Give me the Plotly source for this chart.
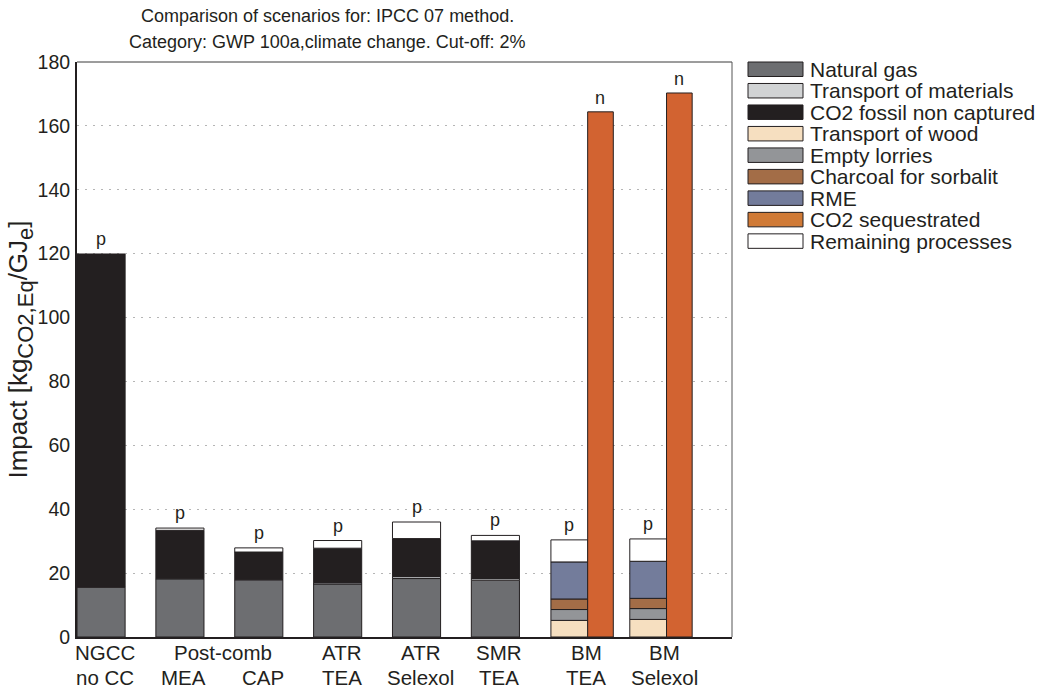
import plotly.graph_objects as go

# ---- data -------------------------------------------------------------
label_line1 = ["NGCC", "", "", "ATR", "ATR", "SMR", "BM", "BM"]
label_line2 = ["no CC", "MEA", "CAP", "TEA", "Selexol", "TEA", "TEA", "Selexol"]
group_label = "Post-comb"          # spans the MEA and CAP scenarios
group_members = [1, 2]

series_names = [
    "Natural gas", "Transport of materials", "CO2 fossil non captured",
    "Transport of wood", "Empty lorries", "Charcoal for sorbalit", "RME",
    "CO2 sequestrated", "Remaining processes",
]

natural_gas        = [15.6, 18.2, 17.9, 16.6, 18.3, 17.8, 0.0, 0.0]
transport_material = [0.0, 0.0, 0.0, 0.4, 0.6, 0.5, 0.0, 0.0]
co2_fossil         = [104.3, 15.2, 8.7, 10.8, 11.9, 11.8, 0.0, 0.0]
transport_wood     = [0.0, 0.0, 0.0, 0.0, 0.0, 0.0, 5.2, 5.5]
empty_lorries      = [0.0, 0.0, 0.0, 0.0, 0.0, 0.0, 3.4, 3.4]
charcoal_sorbalit  = [0.0, 0.0, 0.0, 0.0, 0.0, 0.0, 3.3, 3.2]
rme                = [0.0, 0.0, 0.0, 0.0, 0.0, 0.0, 11.6, 11.6]
co2_sequestrated   = [0.0, 0.0, 0.0, 0.0, 0.0, 0.0, 164.4, 170.3]
remaining          = [0.0, 0.7, 1.3, 2.4, 5.2, 1.7, 6.9, 7.0]

positive_sign = "p"
negative_sign = "n"

title_lines = [
    "Comparison of scenarios for: IPCC 07 method.",
    "Category: GWP 100a,climate change. Cut-off: 2%",
]

# ---- styles -----------------------------------------------------------
colors = {
    "Natural gas": "#6d6e71",
    "Transport of materials": "#d1d3d4",
    "CO2 fossil non captured": "#231f20",
    "Transport of wood": "#f6dfc0",
    "Empty lorries": "#939598",
    "Charcoal for sorbalit": "#a36d47",
    "RME": "#737c9b",
    "CO2 sequestrated": "#d26331",
    "Remaining processes": "#ffffff",
}
legend_colors = dict(colors, **{"CO2 sequestrated": "#d07a36"})
INK = "#231f20"
FONT = "Liberation Sans, Arial, sans-serif"

n = len(label_line2)
idx = list(range(n))

# bar geometry (in category units)
has_seq = [v > 0 for v in co2_sequestrated]
stack_w = [0.47 if s else 0.61 for s in has_seq]
stack_off = [-0.296 if s else -0.305 for s in has_seq]
seq_w = 0.325
seq_off = 0.17

stack_series = [
    ("Natural gas", natural_gas),
    ("Transport of materials", transport_material),
    ("CO2 fossil non captured", co2_fossil),
    ("Transport of wood", transport_wood),
    ("Empty lorries", empty_lorries),
    ("Charcoal for sorbalit", charcoal_sorbalit),
    ("RME", rme),
    ("Remaining processes", remaining),
]

fig = go.Figure()
base = [0.0] * n
for name, vals in stack_series:
    y = [v if v > 0 else None for v in vals]
    fig.add_trace(go.Bar(
        x=idx, y=y, base=list(base), width=stack_w, offset=stack_off,
        name=name, marker=dict(color=colors[name], line=dict(color=INK, width=1)),
        showlegend=False, hoverinfo="name+y",
    ))
    base = [b + v for b, v in zip(base, vals)]
stack_total = base

fig.add_trace(go.Bar(
    x=idx, y=[v if v > 0 else None for v in co2_sequestrated],
    base=[0.0] * n, width=[seq_w] * n, offset=[seq_off] * n,
    name="CO2 sequestrated",
    marker=dict(color=colors["CO2 sequestrated"], line=dict(color=INK, width=1)),
    showlegend=False, hoverinfo="name+y",
))

annotations = []
# sign markers above bars
for i in idx:
    annotations.append(dict(
        x=i + stack_off[i] + stack_w[i] / 2, y=stack_total[i], xref="x", yref="y",
        text=positive_sign, showarrow=False, yanchor="bottom", yshift=3,
        font=dict(family=FONT, size=18, color=INK),
    ))
    if co2_sequestrated[i] > 0:
        annotations.append(dict(
            x=i + seq_off + seq_w / 2, y=co2_sequestrated[i], xref="x", yref="y",
            text=negative_sign, showarrow=False, yanchor="bottom", yshift=2,
            font=dict(family=FONT, size=18, color=INK),
        ))

# two-line category labels below the axis
for i in idx:
    right = i + (seq_off + seq_w if has_seq[i] else stack_off[i] + stack_w[i])
    centre = (i + stack_off[i] + right) / 2 + 0.05
    for line, txt in ((0, label_line1[i]), (1, label_line2[i])):
        if not txt:
            continue
        annotations.append(dict(
            x=centre, y=0, xref="x", yref="paper", yanchor="top",
            yshift=-2 - 25 * line, text=txt, showarrow=False,
            font=dict(family=FONT, size=20.5, color=INK),
        ))
annotations.append(dict(
    x=sum(group_members) / len(group_members) + 0.05, y=0, xref="x", yref="paper",
    yanchor="top", yshift=-2, text=group_label, showarrow=False,
    font=dict(family=FONT, size=20.5, color=INK),
))

# legend built from swatches and labels
W, H = 1040, 690
L, R, T, B = 77, 732, 62, 637.5


def px_x(p):
    return (p - L) / (R - L)


def px_y(p):
    return (B - p) / (B - T)


# title, two centred lines
for k, line in enumerate(title_lines):
    annotations.append(dict(
        x=px_x(327), y=px_y(16 + 26 * k), xref="paper", yref="paper",
        xanchor="center", yanchor="middle", text=line, showarrow=False,
        font=dict(family=FONT, size=18, color=INK),
    ))

shapes = []
row_top, row_step, sw_h = 62, 21.5, 14.5
for k, name in enumerate(series_names):
    top = row_top + k * row_step
    shapes.append(dict(
        type="rect", xref="paper", yref="paper",
        x0=px_x(748), x1=px_x(803), y0=px_y(top), y1=px_y(top + sw_h),
        fillcolor=legend_colors[name], line=dict(color=INK, width=1),
    ))
    annotations.append(dict(
        x=px_x(808), y=px_y(top + sw_h / 2), xref="paper", yref="paper",
        xanchor="left", yanchor="middle", text=name, showarrow=False,
        font=dict(family=FONT, size=21, color=INK),
    ))

# thin top and right border of the plot box
shapes.append(dict(type="line", xref="paper", yref="paper", x0=0, x1=1, y0=1, y1=1,
                   line=dict(color="#3a3a3a", width=1)))
shapes.append(dict(type="line", xref="paper", yref="paper", x0=1, x1=1, y0=0, y1=1,
                   line=dict(color="#555555", width=1)))

ylabel = ("Impact [kg<sub><span style='font-size:22px'>CO2,Eq</span></sub>"
          "/GJ<sub><span style='font-size:22px'>e</span></sub>]")

fig.update_layout(
    width=W, height=H,
    margin=dict(l=L, r=W - R, t=T, b=H - B),
    paper_bgcolor="white", plot_bgcolor="white",
    barmode="overlay",
    showlegend=False,
    xaxis=dict(
        range=[-0.305, 8.0], showticklabels=False, ticks="", showgrid=False,
        zeroline=False, showline=True, linecolor=INK, linewidth=2,
    ),
    yaxis=dict(
        range=[0, 180], dtick=20, ticks="", showgrid=True,
        gridcolor="#b5b5b5", griddash="2px,6px", gridwidth=1,
        zeroline=False, showline=True, linecolor=INK, linewidth=2,
        tickfont=dict(family=FONT, size=19.5, color=INK),
        ticklabelstandoff=1,
        title=dict(text=ylabel,
                   font=dict(family=FONT, size=26, color=INK), standoff=2),
    ),
    annotations=annotations,
    shapes=shapes,
)

fig.write_html("out.html")
